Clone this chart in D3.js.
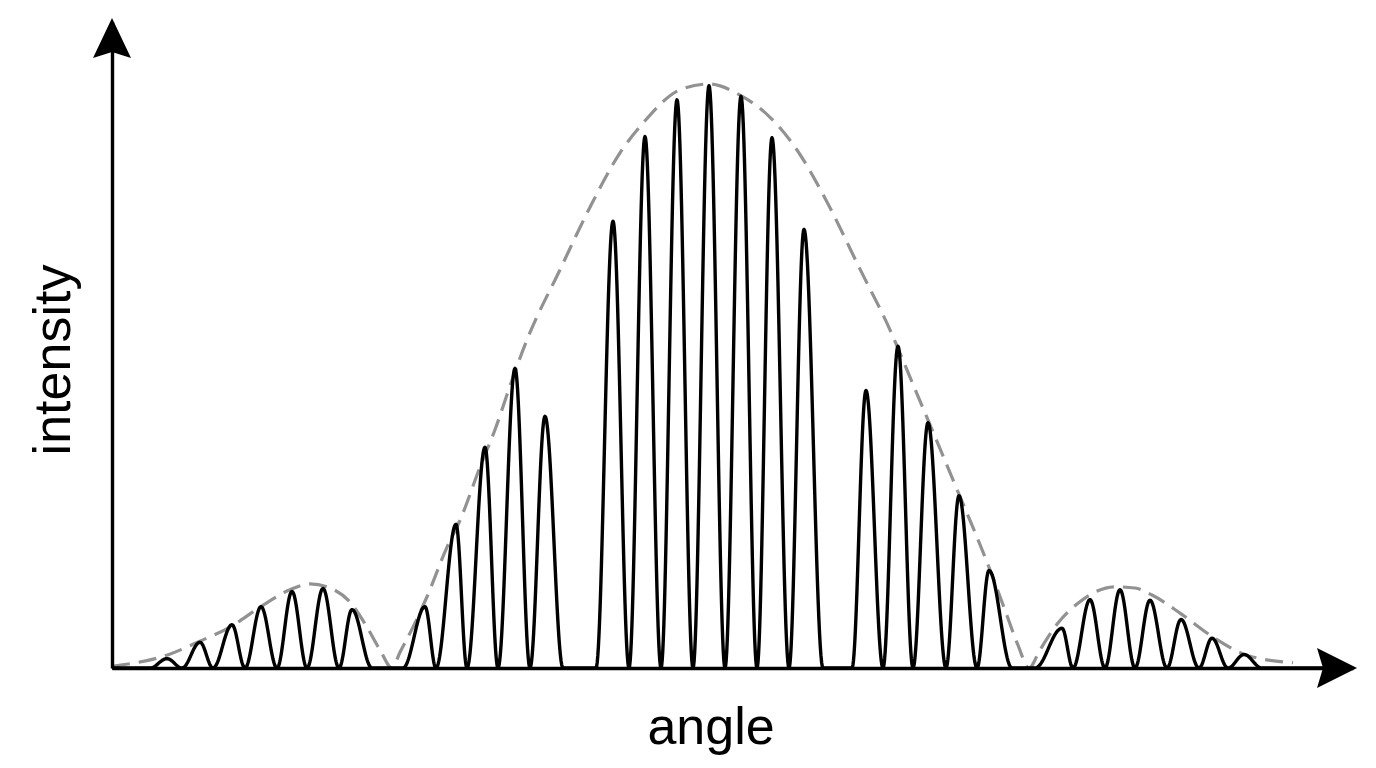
<!DOCTYPE html>
<html>
<head>
<meta charset="utf-8">
<script src="https://cdn.jsdelivr.net/npm/d3@7"></script>
<style>
  html, body { margin: 0; padding: 0; background: #fff; }
  svg { display: block; }
</style>
</head>
<body>
<svg id="chart" width="1376" height="768"></svg>
<script>
// ---- data ----
// angle in arbitrary units, intensity normalised to the central maximum
const angleDomain = [-59.7, 64.4];
const intensityDomain = [0, 1.107];

// each fringe: left zero, position of maximum, right zero, peak intensity
const peakLeft = [-55.9, -52.7, -49.6, -46.4, -43.2, -40.2, -37.0,
                  -30.6, -27.3, -24.2, -21.1, -17.9,
                  -11.3, -8.0, -4.8, -1.6, 1.6, 4.8, 8.0,
                  14.3, 17.4, 20.4, 23.7, 26.8,
                  32.6, 36.4, 39.6, 42.6, 45.8, 49.0, 51.9];
const peakAngle = [-54.2, -50.9, -47.7, -44.8, -41.7, -38.6, -35.7,
                   -28.4, -25.3, -22.4, -19.4, -16.4,
                   -9.6, -6.4, -3.2, 0.0, 3.2, 6.3, 9.5,
                   15.7, 18.9, 21.9, 25.0, 28.0,
                   35.3, 38.1, 41.1, 44.1, 47.2, 50.3, 53.5];
const peakRight = [-52.7, -49.6, -46.4, -43.2, -40.2, -37.0, -33.7,
                   -27.3, -24.2, -21.1, -17.9, -14.6,
                   -8.0, -4.8, -1.6, 1.6, 4.8, 8.0, 11.4,
                   17.4, 20.4, 23.7, 26.8, 30.3,
                   36.4, 39.6, 42.6, 45.8, 49.0, 51.9, 55.3];
const peakIntensity = [0.016, 0.044, 0.074, 0.105, 0.131, 0.136, 0.100,
                       0.105, 0.246, 0.378, 0.513, 0.431,
                       0.765, 0.910, 0.973, 0.997, 0.979, 0.908, 0.751,
                       0.475, 0.551, 0.420, 0.295, 0.167,
                       0.068, 0.117, 0.134, 0.116, 0.083, 0.051, 0.023];

// single-slit envelope (dashed), sampled points
const envAngle = [-59.7, -54.2, -50.9, -47.9, -44.9, -41.9, -39.9, -37.9, -35.9, -34.2, -32.9, -31.7,
                  -30.9, -29.6, -28.2, -26.2, -24.9, -22.9, -21.4, -19.6, -18.2, -14.9, -11.9, -8.9,
                  -6.6, -2.9, 0.0, 3.1, 6.1, 8.8, 11.8, 15.1, 18.1, 20.1, 24.4, 28.1, 29.6, 30.9, 32.0,
                  33.1, 34.9, 36.9, 38.6, 40.6, 42.6, 44.3, 47.1, 50.4, 53.8, 58.4];
const envIntensity = [0.003, 0.022, 0.046, 0.070, 0.104, 0.134, 0.144, 0.137, 0.113, 0.070, 0.031, 0.0,
                      0.027, 0.070, 0.122, 0.207, 0.253, 0.344, 0.408, 0.498, 0.562, 0.682, 0.789, 0.882,
                      0.933, 0.990, 1.0, 0.981, 0.943, 0.887, 0.798, 0.683, 0.579, 0.498, 0.322, 0.168, 0.099, 0.039, 0.0,
                      0.031, 0.077, 0.111, 0.130, 0.139, 0.137, 0.125, 0.094, 0.053, 0.022, 0.009];

const xLabel = "angle";
const yLabel = "intensity";

// ---- layout ----
const plotLeft = 112, plotRight = 1353, plotBottom = 668, plotTop = 21.5;
const svg = d3.select("#chart");

const x = d3.scaleLinear().domain(angleDomain).range([plotLeft, plotRight]);
const y = d3.scaleLinear().domain(intensityDomain).range([plotBottom, plotTop]);

// ---- fringe curve ----
const pts = [];
pts.push([angleDomain[0], 0]);
const N = 28;
for (let i = 0; i < peakAngle.length; i++) {
  const L = peakLeft[i], P = peakAngle[i], R = peakRight[i], h = peakIntensity[i];
  for (let k = 0; k <= N; k++) {
    const t = k / N;
    pts.push([L + (P - L) * t, h * Math.pow(Math.sin(Math.PI / 2 * t), 2)]);
  }
  for (let k = 1; k <= N; k++) {
    const t = k / N;
    pts.push([P + (R - P) * t, h * Math.pow(Math.cos(Math.PI / 2 * t), 2)]);
  }
}
pts.push([angleDomain[1], 0]);

const envPts = envAngle.map((a, i) => [a, envIntensity[i]]);

svg.append("path")
  .datum(envPts)
  .attr("fill", "none")
  .attr("stroke", "#929292")
  .attr("stroke-width", 3.2)
  .attr("stroke-dasharray", "18,9")
  .attr("d", d3.line().x(d => x(d[0])).y(d => y(d[1])).curve(d3.curveMonotoneX));

svg.append("path")
  .datum(pts)
  .attr("fill", "none")
  .attr("stroke", "#000")
  .attr("stroke-width", 3.4)
  .attr("stroke-linejoin", "round")
  .attr("d", d3.line().x(d => x(d[0])).y(d => y(d[1])));

// ---- axes ----
svg.append("g")
  .attr("transform", `translate(0,${plotBottom})`)
  .call(d3.axisBottom(x).tickValues([]).tickSizeOuter(0));
svg.append("g")
  .attr("transform", `translate(${plotLeft},0)`)
  .call(d3.axisLeft(y).tickValues([]).tickSizeOuter(0));
svg.selectAll(".domain").attr("stroke", "#000").attr("stroke-width", 3.4);

// arrowheads
const xTip = plotRight + 4, yTip = plotTop - 3.5;
svg.append("path")
  .attr("d", `M${xTip},${plotBottom} L${xTip - 40},${plotBottom - 20} L${xTip - 34},${plotBottom} L${xTip - 40},${plotBottom + 20} Z`)
  .attr("fill", "#000");
svg.append("path")
  .attr("d", `M${plotLeft},${yTip} L${plotLeft - 19},${yTip + 40} L${plotLeft},${yTip + 34} L${plotLeft + 19},${yTip + 40} Z`)
  .attr("fill", "#000");

// labels
svg.append("text")
  .attr("x", 711).attr("y", 744)
  .attr("text-anchor", "middle")
  .attr("font-family", "'Liberation Sans', Arial, sans-serif")
  .attr("font-size", 52)
  .attr("fill", "#000")
  .text(xLabel);
svg.append("text")
  .attr("transform", "translate(70,360) rotate(-90)")
  .attr("text-anchor", "middle")
  .attr("font-family", "'Liberation Sans', Arial, sans-serif")
  .attr("font-size", 52)
  .attr("fill", "#000")
  .text(yLabel);
</script>
</body>
</html>
